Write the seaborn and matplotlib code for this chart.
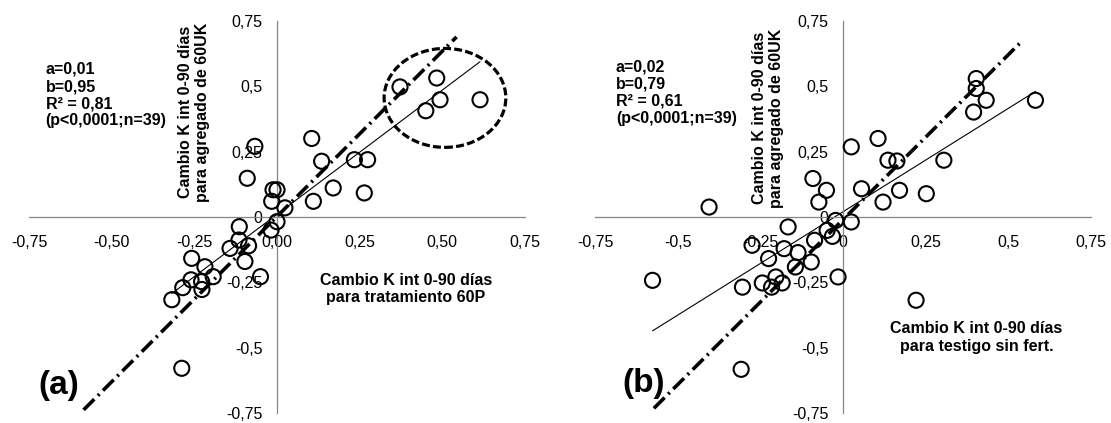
import numpy as np
import pandas as pd
import seaborn as sns
import matplotlib
matplotlib.use("Agg")
import matplotlib.pyplot as plt
from matplotlib.patches import Ellipse

# ---------------- data ----------------
# Panel (a): x = cambio K 60P, y = cambio K 60UK
a_x = [0.105, -0.067, 0.135, -0.090, -0.012, 0.000, -0.016, 0.024, 0.110, 0.000,
       -0.018, -0.114, -0.115, -0.086, -0.142, -0.097, -0.050, -0.258, -0.218, -0.193,
       -0.260, -0.228, -0.227, -0.285, -0.318, -0.288, 0.170, 0.234, 0.274, 0.264,
       0.372, 0.483, 0.493, 0.450, 0.614]
a_y = [0.300, 0.270, 0.213, 0.148, 0.104, 0.104, 0.060, 0.035, 0.060, -0.018,
       -0.050, -0.037, -0.088, -0.110, -0.120, -0.170, -0.228, -0.158, -0.190, -0.228,
       -0.240, -0.247, -0.277, -0.270, -0.316, -0.578, 0.111, 0.219, 0.219, 0.092,
       0.497, 0.531, 0.448, 0.406, 0.448]

# Panel (b): x = cambio K testigo, y = cambio K 60UK
b_x = [0.403, 0.403, 0.433, 0.395, 0.582, 0.106, 0.025, 0.136, 0.163, 0.305,
       0.056, 0.171, 0.252, 0.121, 0.025, -0.022, -0.405, -0.576, -0.091, -0.050,
       -0.073, -0.166, -0.048, -0.086, -0.032, -0.275, -0.178, -0.225, -0.136, -0.096,
       -0.144, -0.203, -0.244, -0.184, -0.216, -0.304, -0.015, -0.308, 0.221]
b_y = [0.529, 0.491, 0.446, 0.401, 0.446, 0.300, 0.268, 0.217, 0.214, 0.217,
       0.108, 0.102, 0.089, 0.057, -0.019, -0.013, 0.038, -0.242, 0.147, 0.102,
       0.057, -0.038, -0.051, -0.089, -0.074, -0.108, -0.121, -0.159, -0.136, -0.172,
       -0.191, -0.229, -0.252, -0.252, -0.268, -0.268, -0.229, -0.582, -0.318]

# regression coefficients (a = intercept, b = slope)
fit_a = [0.01, 0.95]
fit_b = [0.02, 0.79]

# hand-drawn reference (dash-dot) line end points
ref_a_x = [-0.585, 0.543]
ref_a_y = [-0.737, 0.688]
ref_b_x = [-0.572, 0.534]
ref_b_y = [-0.731, 0.663]

# highlighted group ellipse in panel (a): centre and size
ell_center = [0.508, 0.455]
ell_size = [0.368, 0.378]

ticks = [-0.75, -0.5, -0.25, 0, 0.25, 0.5, 0.75]
xlabels_a = ["-0,75", "-0,50", "-0,25", "0,00", "0,25", "0,50", "0,75"]
xlabels_b = ["-0,75", "-0,5", "-0,25", "0", "0,25", "0,5", "0,75"]
ylabels = ["-0,75", "-0,5", "-0,25", "0", "0,25", "0,5", "0,75"]

stats_a = "a=0,01\nb=0,95\nR² = 0,81\n(p<0,0001;n=39)"
stats_b = "a=0,02\nb=0,79\nR² = 0,61\n(p<0,0001;n=39)"
ylab = "Cambio K int 0-90 días\npara agregado de 60UK"
xlab_a = "Cambio K int 0-90 días\npara tratamiento 60P"
xlab_b = "Cambio K int 0-90 días\npara testigo sin fert."

# ---------------- drawing ----------------
sns.set_style("white")
plt.rcParams["font.family"] = ["Liberation Sans", "DejaVu Sans"]

W, H = 1111, 423
fig = plt.figure(figsize=(W / 100, H / 100), dpi=100)
ax1 = fig.add_axes([29 / W, 9.7 / H, 496 / W, 392.6 / H])
ax2 = fig.add_axes([595 / W, 9.7 / H, 496 / W, 392.6 / H])

GRAY = "#868686"


def style(ax, xlabels):
    ax.set_xlim(-0.75, 0.75)
    ax.set_ylim(-0.75, 0.75)
    ax.patch.set_alpha(0)
    for s in ["top", "right"]:
        ax.spines[s].set_visible(False)
    for s in ["left", "bottom"]:
        ax.spines[s].set_position("zero")
        ax.spines[s].set_color(GRAY)
        ax.spines[s].set_linewidth(0.9)
    ax.set_xticks(ticks)
    ax.set_xticklabels(xlabels)
    ax.set_yticks(ticks)
    ax.set_yticklabels(ylabels)
    ax.tick_params(axis="x", direction="out", length=3, width=0.9, color=GRAY,
                   pad=10, labelsize=11.5, labelcolor="black")
    ax.tick_params(axis="y", direction="out", length=4, width=0.9, color=GRAY,
                   pad=6.5, labelsize=11.5, labelcolor="black")
    ax.set_xlabel("")
    ax.set_ylabel("")


def panel(ax, xs, ys, fit, rx, ry):
    df = pd.DataFrame({"x": xs, "y": ys})
    sns.scatterplot(data=df, x="x", y="y", ax=ax, marker="o", s=118,
                    color="black", edgecolor="black", linewidth=1.5, zorder=3)
    ax.collections[-1].set_facecolor("none")
    xr = np.array([min(xs), max(xs)])
    sns.lineplot(x=xr, y=fit[0] + fit[1] * xr, ax=ax, color="black",
                 linewidth=0.8, zorder=2)
    ax.plot(rx, ry, color="black", linewidth=2.6,
            linestyle=(0, (4.2, 1.4, 0.6, 1.4)), zorder=2)


panel(ax1, a_x, a_y, fit_a, ref_a_x, ref_a_y)
panel(ax2, b_x, b_y, fit_b, ref_b_x, ref_b_y)
style(ax1, xlabels_a)
style(ax2, xlabels_b)

ax1.add_patch(Ellipse(tuple(ell_center), ell_size[0], ell_size[1], fill=False,
                      edgecolor="black", linewidth=2.3,
                      linestyle=(0, (2.5, 1.0)), zorder=4))

bold = dict(fontsize=11.5, fontweight="bold", color="black")
ax1.text(-0.70, 0.466, stats_a, ha="left", va="center", linespacing=1.17, **bold)
ax2.text(-0.687, 0.474, stats_b, ha="left", va="center", linespacing=1.17, **bold)

ax1.text(-0.25, 0.40, ylab, rotation=90, ha="center", va="center",
         multialignment="center", linespacing=1.15, **bold)
ax2.text(-0.228, 0.377, ylab, rotation=90, ha="center", va="center",
         multialignment="center", linespacing=1.15, **bold)

ax1.text(0.39, -0.275, xlab_a, ha="center", va="center",
         multialignment="center", linespacing=1.2, **bold)
ax2.text(0.404, -0.46, xlab_b, ha="center", va="center",
         multialignment="center", linespacing=1.2, **bold)

ax1.text(-0.66, -0.642, "(a)", ha="center", va="center", fontsize=24,
         fontweight="bold", color="black")
ax2.text(-0.604, -0.636, "(b)", ha="center", va="center", fontsize=24,
         fontweight="bold", color="black")

fig.savefig("out.png", dpi=100)
